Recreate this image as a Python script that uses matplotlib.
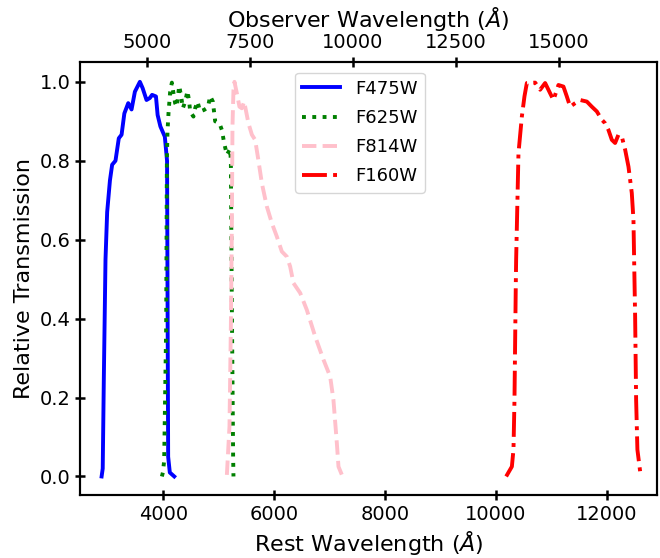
import numpy as np
import matplotlib
matplotlib.use("Agg")
import matplotlib.pyplot as plt

# ---------------- DATA (rest-frame wavelength, relative transmission) ----------------
z = 0.347

f475w_wave = [2890, 2910, 2930, 2960, 2990, 3040, 3080, 3140, 3200, 3250, 3300, 3370,
              3430, 3490, 3580, 3630, 3700, 3760, 3800, 3870, 3900, 3950, 4030, 4070,
              4078, 4090, 4120, 4200]
f475w_trans = [0.0, 0.02, 0.25, 0.55, 0.67, 0.75, 0.79, 0.80, 0.857, 0.866, 0.92, 0.946,
               0.93, 0.975, 1.0, 0.984, 0.954, 0.959, 0.967, 0.963, 0.916, 0.887, 0.861, 0.80,
               0.5, 0.05, 0.01, 0.0]

f625w_wave = [3977, 3995, 4018, 4054, 4067, 4078, 4096, 4126, 4157, 4186, 4216, 4247,
              4289, 4325, 4355, 4397, 4438, 4469, 4487, 4546, 4577, 4619, 4667, 4739,
              4806, 4848, 4896, 4938, 5015, 5059, 5100, 5149, 5208, 5221, 5235, 5262, 5268]
f625w_trans = [0.0, 0.01, 0.04, 0.38, 0.80, 0.874, 0.92, 0.975, 0.998, 0.971, 0.946, 0.937,
               0.99, 0.963, 0.933, 0.95, 0.977, 0.95, 0.925, 0.912, 0.933, 0.95, 0.925, 0.929,
               0.935, 0.964, 0.95, 0.90, 0.895, 0.878, 0.845, 0.815, 0.83, 0.80, 0.5, 0.05, 0.0]

f814w_wave = [5149, 5196, 5221, 5239, 5250, 5268, 5286, 5329, 5376, 5419, 5461, 5538,
              5600, 5659, 5719, 5780, 5870, 5960, 6050, 6140, 6231, 6290, 6350, 6471,
              6591, 6741, 6891, 7012, 7071, 7132, 7162, 7223]
f814w_trans = [0.004, 0.127, 0.38, 0.633, 0.887, 0.98, 1.0, 0.971, 0.937, 0.933, 0.95, 0.895,
               0.866, 0.853, 0.80, 0.743, 0.684, 0.642, 0.608, 0.570, 0.557, 0.532, 0.49, 0.465,
               0.422, 0.355, 0.296, 0.253, 0.194, 0.085, 0.025, 0.004]

f160w_wave = [10186, 10289, 10318, 10336, 10360, 10366, 10408, 10469, 10516, 10559, 10709,
              10799, 10889, 10979, 11039, 11129, 11219, 11280, 11340, 11430, 11520, 11641,
              11731, 11821, 11911, 11971, 12031, 12092, 12151, 12211, 12272, 12332, 12392,
              12452, 12482, 12494, 12512, 12530, 12553, 12602]
f160w_trans = [0.0, 0.025, 0.068, 0.194, 0.49, 0.549, 0.819, 0.912, 0.963, 0.997, 0.998,
               0.98, 0.997, 0.971, 0.954, 0.992, 0.988, 0.963, 0.937, 0.946, 0.954, 0.95,
               0.937, 0.925, 0.904, 0.895, 0.878, 0.853, 0.845, 0.866, 0.861, 0.828, 0.785,
               0.718, 0.65, 0.549, 0.405, 0.194, 0.068, 0.013]

filters = ["F475W", "F625W", "F814W", "F160W"]
colors = ["blue", "green", "pink", "red"]
styles = ["-", ":", "--", "-."]

# ---------------- PLOT ----------------
fig = plt.figure(figsize=(6.6, 5.58), dpi=100)
ax = fig.add_axes([0.1212, 0.1129, 0.8743, 0.7765])

waves = [f475w_wave, f625w_wave, f814w_wave, f160w_wave]
trans = [f475w_trans, f625w_trans, f814w_trans, f160w_trans]
for w, t, name, c, ls in zip(waves, trans, filters, colors, styles):
    ax.plot(w, t, color=c, ls=ls, lw=2.8, label=name)

xlim = (2500, 12907)
ax.set_xlim(xlim)
ax.set_ylim(-0.047, 1.051)
ax.set_xticks([4000, 6000, 8000, 10000, 12000])
ax.set_yticks([0.0, 0.2, 0.4, 0.6, 0.8, 1.0])
ax.set_xlabel(r"Rest Wavelength ($\AA$)", fontsize=16)
ax.set_ylabel("Relative Transmission", fontsize=16)
ax.tick_params(direction="inout", length=7, width=1.8, labelsize=14)

ax2 = ax.twiny()
ax2.set_xlim(xlim[0] * (1 + z), xlim[1] * (1 + z))
ax2.set_xticks([5000, 7500, 10000, 12500, 15000])
ax2.set_xlabel(r"Observer Wavelength ($\AA$)", fontsize=16)
ax2.tick_params(direction="inout", length=7, width=1.8, labelsize=14)

for a in (ax, ax2):
    for sp in a.spines.values():
        sp.set_linewidth(1.5)

ax.legend(loc="upper center", bbox_to_anchor=(0.485, 1.0), fontsize=13,
          handlelength=2.1, labelspacing=0.62, borderaxespad=0.6)

fig.savefig("out.png", dpi=100)
